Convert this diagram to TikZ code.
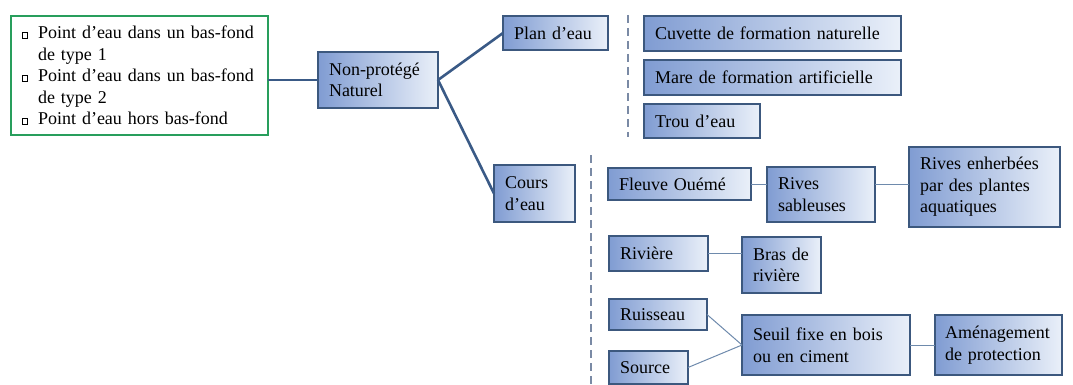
\documentclass[tikz,border=0pt]{standalone}
\usepackage{fontspec}
\setmainfont{Liberation Serif}
\usetikzlibrary{positioning}

\definecolor{boxedge}{RGB}{60,88,126}
\definecolor{boxdark}{RGB}{128,156,210}
\definecolor{boxlight}{RGB}{234,240,249}
\definecolor{mainlink}{RGB}{58,90,134}
\definecolor{sublink}{RGB}{110,138,172}
\definecolor{sepgray}{RGB}{122,138,165}
\definecolor{listgreen}{RGB}{40,158,92}

\newcommand{\sqmark}{\raisebox{0.6pt}{\setlength{\fboxsep}{0pt}\setlength{\fboxrule}{0.7pt}\framebox[6pt]{\rule{0pt}{5pt}}}}

\begin{document}
\begin{tikzpicture}[x=1pt, y=-1pt,
  box/.style={draw=boxedge, line width=2pt, left color=boxdark, right color=boxlight,
    shading angle=90, anchor=north west, outer sep=0pt, inner xsep=11pt, inner ysep=0pt,
    align=left, font=\fontsize{18}{21.5}\selectfont},
  listbox/.style={draw=listgreen, line width=2pt, fill=white, anchor=north west,
    outer sep=0pt, inner xsep=11pt, align=left, font=\fontsize{18}{21.5}\selectfont},
  mainline/.style={draw=mainlink, line width=2.6pt},
  subline/.style={draw=sublink, line width=1pt},
  sepline/.style={draw=sepgray, line width=1.6pt, dash pattern=on 8pt off 5pt}]

  \useasboundingbox (0,0) rectangle (1073,385);

  % Nodes
  \node (list) [listbox, minimum width=257pt, minimum height=119pt, text width=235pt] at (11,16)
    {\sqmark\hspace{10pt}Point d’eau dans un bas-fond\\
     \hphantom{\sqmark\hspace{10pt}}de type 1\\
     \sqmark\hspace{10pt}Point d’eau dans un bas-fond\\
     \hphantom{\sqmark\hspace{10pt}}de type 2\\
     \sqmark\hspace{10pt}Point d’eau hors bas-fond};
  \node (nonprot) [box, minimum width=120pt, minimum height=56pt, text width=98pt] at (318,52) {Non-protégé\\Naturel};
  \node (plan) [box, minimum width=105pt, minimum height=34pt, text width=83pt] at (503,16) {Plan d’eau};
  \node (cours) [box, minimum width=81pt, minimum height=57pt, text width=59pt] at (494,165) {Cours\\d’eau};

  \node (cuvette) [box, minimum width=257pt, minimum height=35pt, text width=235pt] at (644,16) {Cuvette de formation naturelle};
  \node (mare) [box, minimum width=257pt, minimum height=35pt, text width=235pt,
    below=9pt of cuvette.south west, anchor=north west] {Mare de formation artificielle};
  \node (trou) [box, minimum width=116pt, minimum height=34pt, text width=94pt,
    below=9pt of mare.south west, anchor=north west] {Trou d’eau};

  \node (fleuve) [box, minimum width=143pt, minimum height=32pt, text width=121pt] at (608,168) {Fleuve Ouémé};
  \node (rivsab) [box, minimum width=108pt, minimum height=55pt, text width=86pt] at (767,167) {Rives\\sableuses};
  \node (rivenh) [box, minimum width=151pt, minimum height=80pt, text width=129pt] at (909,147) {Rives enherbées\\par des plantes\\aquatiques};
  \node (riviere) [box, minimum width=99pt, minimum height=35pt, text width=77pt] at (609,236) {Rivière};
  \node (bras) [box, minimum width=79pt, minimum height=56pt, text width=57pt] at (742,237) {Bras de\\rivière};
  \node (ruisseau) [box, minimum width=98pt, minimum height=31pt, text width=76pt,
    below=28pt of riviere.south west, anchor=north west] {Ruisseau};
  \node (source) [box, minimum width=79pt, minimum height=33pt, text width=57pt,
    below=21pt of ruisseau.south west, anchor=north west] {Source};
  \node (seuil) [box, minimum width=168pt, minimum height=60pt, text width=146pt] at (742,315) {Seuil fixe en bois\\ou en ciment};
  \node (amen) [box, minimum width=127pt, minimum height=60pt, text width=107pt, inner xsep=10pt] at (935,315) {Aménagement\\de protection};

  % Separators
  \draw[sepline] (628,15) -- (628,137);
  \draw[sepline] (591,155) -- (591,385);

  % Lines
  \draw[mainline] (list.east |- nonprot) -- (nonprot.west);
  \draw[mainline] (nonprot.east) -- (plan.west);
  \draw[mainline] (nonprot.east) -- (cours.west);
  \draw[subline] (fleuve.east) -- (fleuve.east -| rivsab.west);
  \draw[subline] (fleuve.east -| rivsab.east) -- (fleuve.east -| rivenh.west);
  \draw[subline] (riviere.east) -- (riviere.east -| bras.west);
  \draw[subline] (ruisseau.east) -- (seuil.west);
  \draw[subline] (source.east) -- (seuil.west);
  \draw[subline] (seuil.east) -- (amen.west);

\end{tikzpicture}
\end{document}
